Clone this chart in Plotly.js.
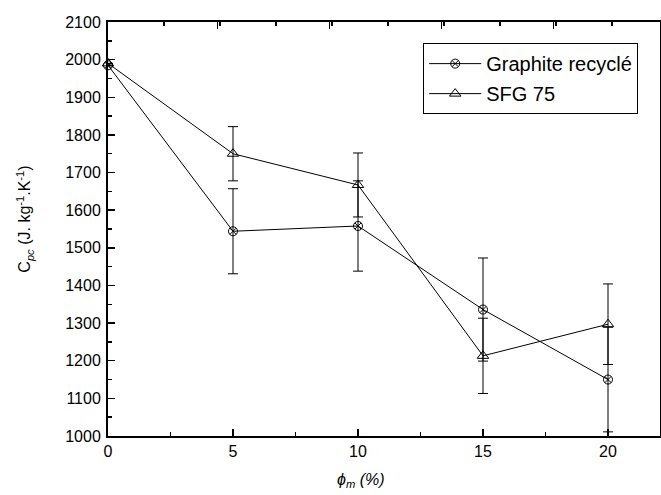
<!DOCTYPE html>
<html>
<head>
<meta charset="utf-8">
<script src="https://cdn.plot.ly/plotly-3.0.1.min.js"></script>
<style>
  html, body { margin: 0; padding: 0; background: #fff; }
  #chart { width: 661px; height: 495px; }
</style>
</head>
<body>
<div id="chart"></div>
<script>
// Mass fraction of graphite (%)
const phi = [0, 5, 10, 15, 20];

// Specific heat of the composite, recycled graphite
const recycledCp = [1985, 1544, 1558, 1336, 1150];
const recycledErr = [0, 113, 120, 137, 139];

// Specific heat of the composite, SFG 75 graphite
const sfgCp = [1990, 1750, 1667, 1213, 1297];
const sfgErr = [0, 72, 85, 100, 107];

const seriesNames = ['Graphite recyclé', 'SFG 75'];

const FONT = 'Liberation Sans, Arial, sans-serif';
const BLACK = '#000';

function series(name, y, err, symbol, size, group) {
  return {
    type: 'scatter',
    mode: 'lines+markers',
    name: name,
    legendgroup: group,
    x: phi,
    y: y,
    line: { color: BLACK, width: 1 },
    marker: { symbol: symbol, size: size, color: BLACK, line: { color: BLACK, width: 1 } },
    error_y: { type: 'data', array: err, visible: true, color: BLACK, thickness: 1, width: 5 },
    cliponaxis: false
  };
}

const traces = [
  series(seriesNames[0], recycledCp, recycledErr, 'circle-x-open', 9, 'a'),
  series(seriesNames[1], sfgCp, sfgErr, 'triangle-up-open', 10, 'b')
];

const layout = {
  width: 661,
  height: 495,
  margin: { l: 108, r: 1, t: 22, b: 59 },
  paper_bgcolor: '#fff',
  plot_bgcolor: '#fff',
  font: { family: FONT, color: BLACK, size: 16 },
  showlegend: true,
  legend: {
    x: 0.571, y: 0.949, xanchor: 'left', yanchor: 'top',
    bgcolor: '#fff', bordercolor: BLACK, borderwidth: 1,
    font: { family: FONT, size: 20, color: BLACK },
    traceorder: 'grouped', tracegroupgap: 1,
    itemwidth: 52, entrywidth: 226
  },
  xaxis: {
    range: [0, 22.08],
    tickmode: 'linear', tick0: 0, dtick: 5,
    ticks: 'inside', ticklen: 7, tickwidth: 1.5, tickcolor: BLACK,
    minor: { dtick: 2.5, ticks: 'inside', ticklen: 4, tickwidth: 1.5, tickcolor: BLACK, showgrid: false },
    showline: true, linewidth: 2, linecolor: BLACK, mirror: true,
    showgrid: false, zeroline: false,
    tickfont: { family: FONT, size: 16, color: BLACK }
  },
  xaxis2: {
    overlaying: 'x', side: 'top', anchor: 'y',
    range: [0, 22.08],
    tickmode: 'linear', tick0: 4.38, dtick: 4.48,
    ticks: 'inside', ticklen: 7, tickwidth: 1.5, tickcolor: BLACK,
    minor: { dtick: 2.24, ticks: 'inside', ticklen: 4, tickwidth: 1.5, tickcolor: BLACK, showgrid: false },
    showticklabels: false, showline: false, showgrid: false, zeroline: false
  },
  yaxis: {
    range: [1000, 2100],
    tickmode: 'linear', tick0: 1000, dtick: 100,
    ticks: 'inside', ticklen: 7, tickwidth: 1.5, tickcolor: BLACK,
    minor: { dtick: 50, ticks: 'inside', ticklen: 4, tickwidth: 1.5, tickcolor: BLACK, showgrid: false },
    showline: true, linewidth: 2, linecolor: BLACK, mirror: true,
    showgrid: false, zeroline: false, ticklabelstandoff: 2,
    tickfont: { family: FONT, size: 16, color: BLACK }
  },
  annotations: [
    {
      xref: 'paper', yref: 'paper', x: 0.458, y: -0.107,
      xanchor: 'center', yanchor: 'middle', showarrow: false,
      text: '<i>ϕ<sub>m</sub> (%)</i>',
      font: { family: FONT, size: 16, color: BLACK }
    },
    {
      xref: 'paper', yref: 'paper', x: -0.150, y: 0.523,
      xanchor: 'center', yanchor: 'middle', showarrow: false, textangle: -90,
      text: 'C<sub><i>pc</i></sub> (J. kg<sup>-1</sup>.K<sup>-1</sup>)',
      font: { family: FONT, size: 16, color: BLACK }
    }
  ]
};

// invisible point so the top axis is rendered with its own ticks
traces.push({ type: 'scatter', x: [0], y: [1000], xaxis: 'x2', yaxis: 'y',
  mode: 'markers', marker: { opacity: 0 }, showlegend: false, hoverinfo: 'skip' });

Plotly.newPlot('chart', traces, layout, { displayModeBar: false, staticPlot: true });
</script>
</body>
</html>
